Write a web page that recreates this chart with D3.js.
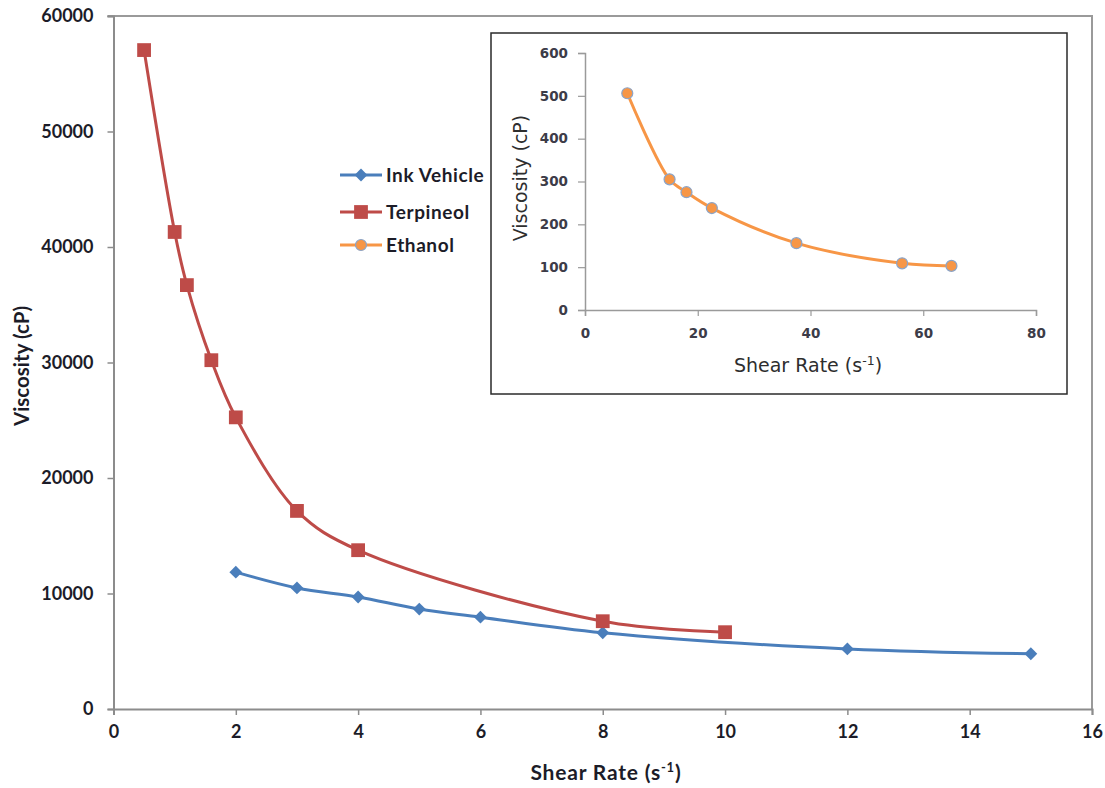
<!DOCTYPE html>
<html>
<head>
<meta charset="utf-8">
<script src="https://cdn.jsdelivr.net/npm/d3@7"></script>
<style>
  html, body { margin: 0; padding: 0; background: #fff; }
  svg { display: block; }
</style>
</head>
<body>
<svg id="chart" width="1105" height="788"></svg>
<script>
// Main chart: viscosity vs. shear rate
const inkX = [2, 3, 4, 5, 6, 8, 12, 15];
const inkY = [11850, 10480, 9700, 8650, 7950, 6600, 5200, 4780];
const terpX = [0.5, 1, 1.2, 1.6, 2, 3, 4, 8, 10];
const terpY = [57050, 41300, 36700, 30200, 25250, 17150, 13750, 7600, 6650];
// Inset: ethanol
const ethX = [7.5, 15, 18, 22.5, 37.5, 56.25, 65];
const ethY = [506, 305, 275, 238, 156, 109, 103];

const xTicks = [0, 2, 4, 6, 8, 10, 12, 14, 16];
const yTicks = [0, 10000, 20000, 30000, 40000, 50000, 60000];
const insetXTicks = [0, 20, 40, 60, 80];
const insetYTicks = [0, 100, 200, 300, 400, 500, 600];

const seriesNames = ["Ink Vehicle", "Terpineol", "Ethanol"];

const BLUE = "#4a7ebb", RED = "#be4b48", ORANGE = "#f79646";
const TXT = "#1c1c28";

const svg = d3.select("#chart");

const x = d3.scaleLinear().domain([0, 16]).range([113.5, 1092]);
const y = d3.scaleLinear().domain([0, 60000]).range([709, 16]);

const zip = (a, b) => a.map((v, i) => [v, b[i]]);
const ink = zip(inkX, inkY), terp = zip(terpX, terpY), eth = zip(ethX, ethY);

// plot area frame (top / right)
svg.append("path")
  .attr("d", `M${x(0) - 6},${y(60000)}H${x(16)}V${y(0)}`)
  .attr("fill", "none").attr("stroke", "#9a9a9a").attr("stroke-width", 2);

// axes
const xAxis = svg.append("g").attr("transform", `translate(0,${y(0)})`)
  .call(d3.axisBottom(x).tickValues(xTicks).tickSize(6).tickPadding(10).tickFormat(d3.format("d")));
const yAxis = svg.append("g").attr("transform", `translate(${x(0)},0)`)
  .call(d3.axisLeft(y).tickValues(yTicks).tickSize(6).tickPadding(14).tickFormat(d3.format("d")));
[xAxis, yAxis].forEach(g => {
  g.select(".domain").attr("stroke", "#8c8c8c").attr("stroke-width", 2);
  g.selectAll(".tick line").attr("stroke", "#8c8c8c").attr("stroke-width", 1.5);
  g.selectAll("text").attr("fill", TXT)
    .style("font-family", "Lato, 'Open Sans', sans-serif")
    .style("font-weight", "bold").style("font-size", "18px");
});
xAxis.selectAll("text").attr("dy", "0.71em");

// axis titles
svg.append("text")
  .attr("x", 606).attr("y", 780).attr("text-anchor", "middle")
  .attr("fill", TXT)
  .style("font-family", "Lato, sans-serif").style("font-weight", "bold").style("font-size", "21px")
  .style("letter-spacing", "0.8px")
  .call(t => {
    t.append("tspan").text("Shear Rate (s");
    t.append("tspan").attr("dy", -8).style("font-size", "13px").text("-1");
    t.append("tspan").attr("dy", 8).text(")");
  });
svg.append("text")
  .attr("transform", `translate(29,${366}) rotate(-90)`).attr("text-anchor", "middle")
  .attr("fill", TXT)
  .style("font-family", "Lato, sans-serif").style("font-weight", "bold").style("font-size", "20.5px")
  .text("Viscosity (cP)");

const curve = d3.curveCatmullRom.alpha(0.5);

function drawSeries(g, data, sx, sy, color, width) {
  g.append("path").datum(data)
    .attr("d", d3.line().x(d => sx(d[0])).y(d => sy(d[1])).curve(curve))
    .attr("fill", "none").attr("stroke", color).attr("stroke-width", width)
    .attr("stroke-linejoin", "round");
}

const diamond = d3.symbol().type(d3.symbolDiamond2).size(105);
const square = d3.symbol().type(d3.symbolSquare).size(190);

// Ink Vehicle
drawSeries(svg, ink, x, y, BLUE, 3);
svg.append("g").selectAll("path").data(ink).join("path")
  .attr("transform", d => `translate(${x(d[0])},${y(d[1])})`)
  .attr("d", diamond).attr("fill", BLUE);

// Terpineol
drawSeries(svg, terp, x, y, RED, 3);
svg.append("g").selectAll("path").data(terp).join("path")
  .attr("transform", d => `translate(${x(d[0])},${y(d[1])})`)
  .attr("d", square).attr("fill", RED);

// legend
const legend = svg.append("g").attr("transform", "translate(340,0)");
const legendY = [175, 212, 245];
const legendColors = [BLUE, RED, ORANGE];
seriesNames.forEach((name, i) => {
  const g = legend.append("g").attr("transform", `translate(0,${legendY[i]})`);
  g.append("line").attr("x1", 0).attr("x2", 42).attr("stroke", legendColors[i]).attr("stroke-width", 3);
  if (i === 0) g.append("path").attr("transform", "translate(21,0)").attr("d", diamond).attr("fill", BLUE);
  if (i === 1) g.append("path").attr("transform", "translate(21,0)").attr("d", square).attr("fill", RED);
  if (i === 2) g.append("circle").attr("cx", 21).attr("r", 5.5).attr("fill", ORANGE).attr("stroke", "#8aa4c8").attr("stroke-width", 1.2);
  g.append("text").attr("x", 46).attr("dy", "0.35em").attr("fill", TXT)
    .style("font-family", "Lato, sans-serif").style("font-weight", "bold").style("font-size", "19px")
    .style("letter-spacing", "0.6px")
    .text(name);
});

// ---------- inset ----------
const inset = svg.append("g");
inset.append("rect").attr("x", 491).attr("y", 33).attr("width", 576).attr("height", 361)
  .attr("fill", "#fff").attr("stroke", "#2a2a2a").attr("stroke-width", 1.5);

const ix = d3.scaleLinear().domain([0, 80]).range([585, 1036]);
const iy = d3.scaleLinear().domain([0, 600]).range([310, 53]);

const ixAxis = inset.append("g").attr("transform", `translate(0,${iy(0)})`)
  .call(d3.axisBottom(ix).tickValues(insetXTicks).tickSize(6).tickPadding(12).tickFormat(d3.format("d")));
const iyAxis = inset.append("g").attr("transform", `translate(${ix(0)},0)`)
  .call(d3.axisLeft(iy).tickValues(insetYTicks).tickSize(7).tickPadding(10).tickFormat(d3.format("d")));
[ixAxis, iyAxis].forEach(g => {
  g.select(".domain").attr("stroke", "#9a9a9a").attr("stroke-width", 1.5);
  g.selectAll(".tick line").attr("stroke", "#9a9a9a").attr("stroke-width", 1.2);
  g.selectAll("text").attr("fill", "#3c3c48")
    .style("font-family", "'DejaVu Sans', sans-serif")
    .style("font-weight", "bold").style("font-size", "13.5px");
});

inset.append("text")
  .attr("x", 808).attr("y", 372).attr("text-anchor", "middle").attr("fill", "#2e2e2e")
  .style("font-family", "'DejaVu Sans', sans-serif").style("font-size", "19px")
  .call(t => {
    t.append("tspan").text("Shear Rate (s");
    t.append("tspan").attr("dy", -7).style("font-size", "12.5px").text("-1");
    t.append("tspan").attr("dy", 7).text(")");
  });
inset.append("text")
  .attr("transform", `translate(527,${178}) rotate(-90)`).attr("text-anchor", "middle").attr("fill", "#2e2e2e")
  .style("font-family", "'DejaVu Sans', sans-serif").style("font-size", "19px")
  .text("Viscosity (cP)");

drawSeries(inset, eth, ix, iy, ORANGE, 3);
inset.append("g").selectAll("circle").data(eth).join("circle")
  .attr("cx", d => ix(d[0])).attr("cy", d => iy(d[1])).attr("r", 5.5)
  .attr("fill", ORANGE).attr("stroke", "#8aa4c8").attr("stroke-width", 1.2);
</script>
</body>
</html>
